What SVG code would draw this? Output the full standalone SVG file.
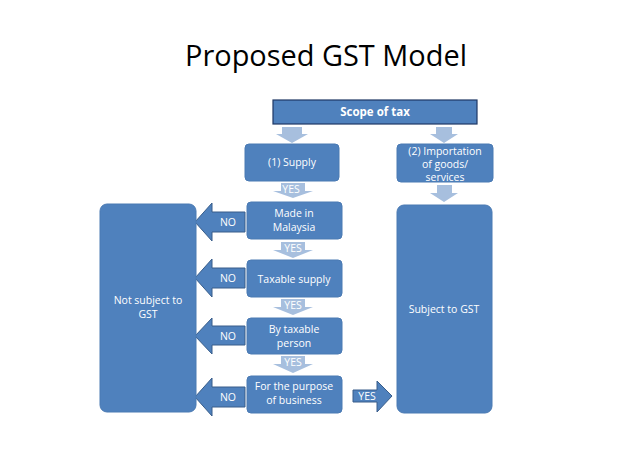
<svg xmlns="http://www.w3.org/2000/svg" width="638" height="451" viewBox="0 0 638 451">
<style>
.box{fill:#4F81BD;stroke:#4A7AB3;stroke-width:1}
.scope{fill:#4F81BD;stroke:#1F3864;stroke-width:1.2}
.la{fill:#A7BFDE;stroke:none}
.da{fill:#4F81BD;stroke:#385D8A;stroke-width:1}
.t{font-family:"Open Sans","Liberation Sans",Arial,sans-serif;font-size:10.5px;fill:#fff;text-anchor:middle}
.tb{font-family:"Open Sans","Liberation Sans",Arial,sans-serif;font-size:11.5px;font-weight:bold;fill:#fff;text-anchor:middle}
.title{font-family:"Open Sans","Liberation Sans",Arial,sans-serif;font-size:30px;fill:#000;text-anchor:middle}
</style>
<rect width="638" height="451" fill="#fff"/>
<text class="title" x="326" y="66" textLength="282" lengthAdjust="spacingAndGlyphs">Proposed GST Model</text>

<g id="connectors">
<path class="la" d="M282,127 H302 V134 H308 L292,143 L276,134 H282 Z"/>
<path class="la" d="M436,127 H452 V134 H458 L444,143 L430,134 H436 Z"/>
<path class="la" d="M437,185 H452 V193 H458 L444,202 L430,193 H437 Z"/>
<g>
<path class="la" d="M281,183 H305 V191 H313 L293,198 L273,191 H281 Z"/>
<text class="t" x="291" y="193">YES</text>
</g>
<g>
<path class="la" d="M281,242 H305 V250 H313 L293,258 L273,250 H281 Z"/>
<text class="t" x="293" y="252">YES</text>
</g>
<g>
<path class="la" d="M281,299 H305 V307 H313 L293,315 L273,307 H281 Z"/>
<text class="t" x="293" y="309">YES</text>
</g>
<g>
<path class="la" d="M281,356 H305 V364 H313 L293,373 L273,364 H281 Z"/>
<text class="t" x="293" y="366">YES</text>
</g>
<g>
<path class="da" d="M195,222 L212,203 V212 H245 V232 H212 V241 Z"/>
<text class="t" x="228" y="226">NO</text>
</g>
<g>
<path class="da" d="M195,278 L212,259 V268 H245 V288 H212 V297 Z"/>
<text class="t" x="228" y="282">NO</text>
</g>
<g>
<path class="da" d="M195,336 L212,318 V326 H245 V345 H212 V354 Z"/>
<text class="t" x="228" y="340">NO</text>
</g>
<g>
<path class="da" d="M195,397 L212,378 V387 H245 V407 H212 V416 Z"/>
<text class="t" x="228" y="401">NO</text>
</g>
<g>
<path class="da" d="M353,390 H377 V381 L392,396 L377,412 V402 H353 Z"/>
<text class="t" x="367" y="400">YES</text>
</g>
</g>

<g id="scope">
<rect class="scope" x="273" y="100" width="204" height="24"/>
<text class="tb" x="375" y="116">Scope of tax</text>
</g>
<g id="supply">
<rect class="box" x="245" y="144" width="94" height="37" rx="4"/>
<text class="t" x="292" y="166">(1) Supply</text>
</g>
<g id="importation">
<rect class="box" x="397" y="144" width="96" height="38" rx="4"/>
<text class="t" x="445" y="155">(2) Importation</text>
<text class="t" x="445" y="168">of goods/</text>
<text class="t" x="445" y="181">services</text>
</g>
<g id="malaysia">
<rect class="box" x="247" y="202" width="95" height="37" rx="4"/>
<text class="t" x="294" y="217">Made in</text>
<text class="t" x="294" y="231">Malaysia</text>
</g>
<g id="taxable">
<rect class="box" x="247" y="260" width="95" height="37" rx="4"/>
<text class="t" x="294" y="283">Taxable supply</text>
</g>
<g id="person">
<rect class="box" x="247" y="318" width="95" height="36" rx="4"/>
<text class="t" x="294" y="333">By taxable</text>
<text class="t" x="294" y="347">person</text>
</g>
<g id="business">
<rect class="box" x="247" y="376" width="95" height="37" rx="4"/>
<text class="t" x="294" y="390">For the purpose</text>
<text class="t" x="294" y="404">of business</text>
</g>
<g id="notsubject">
<rect class="box" x="100" y="204" width="96" height="208" rx="7"/>
<text class="t" x="148" y="304">Not subject to</text>
<text class="t" x="148" y="318">GST</text>
</g>
<g id="subject">
<rect class="box" x="397" y="205" width="95" height="208" rx="7"/>
<text class="t" x="444" y="313">Subject to GST</text>
</g>
</svg>
